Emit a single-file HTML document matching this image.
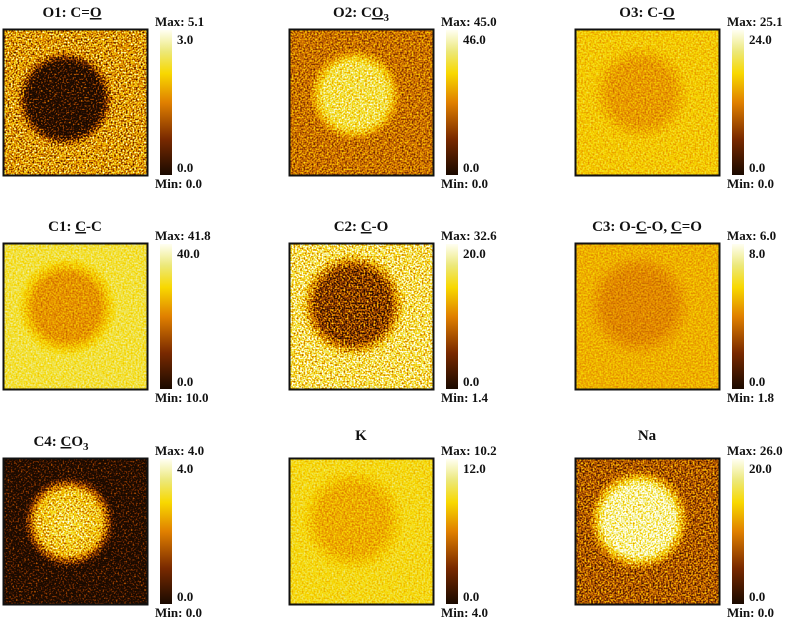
<!DOCTYPE html>
<html><head><meta charset="utf-8"><style>
body{margin:0;background:#fff}
svg text{font-family:"Liberation Serif",serif;font-weight:bold;fill:#111}
</style></head><body>
<svg width="790" height="623" viewBox="0 0 790 623" xmlns="http://www.w3.org/2000/svg">
<defs>
<linearGradient id="cb" x1="0" y1="1" x2="0" y2="0">
<stop offset="0" stop-color="#1a0a00"/><stop offset="0.25" stop-color="#7a2a00"/>
<stop offset="0.5" stop-color="#e08000"/><stop offset="0.7" stop-color="#f8d800"/>
<stop offset="0.85" stop-color="#ece878"/><stop offset="1" stop-color="#fffff2"/>
</linearGradient>
<filter id="f1" x="0" y="0" width="1" height="1" color-interpolation-filters="sRGB"><feTurbulence type="fractalNoise" baseFrequency="0.6" numOctaves="1" seed="1"/><feColorMatrix type="matrix" values="1 0 0 0 0 1 0 0 0 0 1 0 0 0 0 0 0 0 0 1" result="n"/><feComposite in="SourceGraphic" in2="n" operator="arithmetic" k2="1" k3="1.8" k4="-0.9"/><feColorMatrix type="matrix" values="1 0 0 0 0 1 0 0 0 0 1 0 0 0 0 0 0 0 0 1"/><feComponentTransfer><feFuncR type="table" tableValues="0.10 0.25 0.40 0.56 0.72 0.88 0.93 0.97 0.94 0.95 1"/><feFuncG type="table" tableValues="0.04 0.09 0.14 0.23 0.37 0.50 0.67 0.85 0.89 0.94 1"/><feFuncB type="table" tableValues="0 0 0 0 0 0 0 0 0.31 0.63 0.95"/></feComponentTransfer></filter>
<filter id="f2" x="0" y="0" width="1" height="1" color-interpolation-filters="sRGB"><feTurbulence type="fractalNoise" baseFrequency="0.6" numOctaves="1" seed="2"/><feColorMatrix type="matrix" values="1 0 0 0 0 1 0 0 0 0 1 0 0 0 0 0 0 0 0 1" result="n"/><feComposite in="SourceGraphic" in2="n" operator="arithmetic" k2="1" k3="1.0" k4="-0.5"/><feColorMatrix type="matrix" values="1 0 0 0 0 1 0 0 0 0 1 0 0 0 0 0 0 0 0 1"/><feComponentTransfer><feFuncR type="table" tableValues="0.10 0.25 0.40 0.56 0.72 0.88 0.93 0.97 0.94 0.95 1"/><feFuncG type="table" tableValues="0.04 0.09 0.14 0.23 0.37 0.50 0.67 0.85 0.89 0.94 1"/><feFuncB type="table" tableValues="0 0 0 0 0 0 0 0 0.31 0.63 0.95"/></feComponentTransfer></filter>
<filter id="f3" x="0" y="0" width="1" height="1" color-interpolation-filters="sRGB"><feTurbulence type="fractalNoise" baseFrequency="0.6" numOctaves="1" seed="3"/><feColorMatrix type="matrix" values="1 0 0 0 0 1 0 0 0 0 1 0 0 0 0 0 0 0 0 1" result="n"/><feComposite in="SourceGraphic" in2="n" operator="arithmetic" k2="1" k3="0.5" k4="-0.25"/><feColorMatrix type="matrix" values="1 0 0 0 0 1 0 0 0 0 1 0 0 0 0 0 0 0 0 1"/><feComponentTransfer><feFuncR type="table" tableValues="0.10 0.25 0.40 0.56 0.72 0.88 0.93 0.97 0.94 0.95 1"/><feFuncG type="table" tableValues="0.04 0.09 0.14 0.23 0.37 0.50 0.67 0.85 0.89 0.94 1"/><feFuncB type="table" tableValues="0 0 0 0 0 0 0 0 0.31 0.63 0.95"/></feComponentTransfer></filter>
<filter id="f4" x="0" y="0" width="1" height="1" color-interpolation-filters="sRGB"><feTurbulence type="fractalNoise" baseFrequency="0.6" numOctaves="1" seed="4"/><feColorMatrix type="matrix" values="1 0 0 0 0 1 0 0 0 0 1 0 0 0 0 0 0 0 0 1" result="n"/><feComposite in="SourceGraphic" in2="n" operator="arithmetic" k2="1" k3="1.3" k4="-0.65"/><feColorMatrix type="matrix" values="1 0 0 0 0 1 0 0 0 0 1 0 0 0 0 0 0 0 0 1"/><feComponentTransfer><feFuncR type="table" tableValues="0.10 0.25 0.40 0.56 0.72 0.88 0.93 0.97 0.94 0.95 1"/><feFuncG type="table" tableValues="0.04 0.09 0.14 0.23 0.37 0.50 0.67 0.85 0.89 0.94 1"/><feFuncB type="table" tableValues="0 0 0 0 0 0 0 0 0.31 0.63 0.95"/></feComponentTransfer></filter>
<filter id="f5" x="0" y="0" width="1" height="1" color-interpolation-filters="sRGB"><feTurbulence type="fractalNoise" baseFrequency="0.6" numOctaves="1" seed="5"/><feColorMatrix type="matrix" values="1 0 0 0 0 1 0 0 0 0 1 0 0 0 0 0 0 0 0 1" result="n"/><feComposite in="SourceGraphic" in2="n" operator="arithmetic" k2="1" k3="0.4" k4="-0.2"/><feColorMatrix type="matrix" values="1 0 0 0 0 1 0 0 0 0 1 0 0 0 0 0 0 0 0 1"/><feComponentTransfer><feFuncR type="table" tableValues="0.10 0.25 0.40 0.56 0.72 0.88 0.93 0.97 0.94 0.95 1"/><feFuncG type="table" tableValues="0.04 0.09 0.14 0.23 0.37 0.50 0.67 0.85 0.89 0.94 1"/><feFuncB type="table" tableValues="0 0 0 0 0 0 0 0 0.31 0.63 0.95"/></feComponentTransfer></filter>
<filter id="f6" x="0" y="0" width="1" height="1" color-interpolation-filters="sRGB"><feTurbulence type="fractalNoise" baseFrequency="0.6" numOctaves="1" seed="6"/><feColorMatrix type="matrix" values="1 0 0 0 0 1 0 0 0 0 1 0 0 0 0 0 0 0 0 1" result="n"/><feComposite in="SourceGraphic" in2="n" operator="arithmetic" k2="1" k3="1.6" k4="-0.8"/><feColorMatrix type="matrix" values="1 0 0 0 0 1 0 0 0 0 1 0 0 0 0 0 0 0 0 1"/><feComponentTransfer><feFuncR type="table" tableValues="0.10 0.25 0.40 0.56 0.72 0.88 0.93 0.97 0.94 0.95 1"/><feFuncG type="table" tableValues="0.04 0.09 0.14 0.23 0.37 0.50 0.67 0.85 0.89 0.94 1"/><feFuncB type="table" tableValues="0 0 0 0 0 0 0 0 0.31 0.63 0.95"/></feComponentTransfer></filter>
<filter id="f7" x="0" y="0" width="1" height="1" color-interpolation-filters="sRGB"><feTurbulence type="fractalNoise" baseFrequency="0.6" numOctaves="1" seed="7"/><feColorMatrix type="matrix" values="1 0 0 0 0 1 0 0 0 0 1 0 0 0 0 0 0 0 0 1" result="n"/><feComposite in="SourceGraphic" in2="n" operator="arithmetic" k2="1" k3="1.5" k4="-0.75"/><feColorMatrix type="matrix" values="1 0 0 0 0 1 0 0 0 0 1 0 0 0 0 0 0 0 0 1"/><feComponentTransfer><feFuncR type="table" tableValues="0.10 0.25 0.40 0.56 0.72 0.88 0.93 0.97 0.94 0.95 1"/><feFuncG type="table" tableValues="0.04 0.09 0.14 0.23 0.37 0.50 0.67 0.85 0.89 0.94 1"/><feFuncB type="table" tableValues="0 0 0 0 0 0 0 0 0.31 0.63 0.95"/></feComponentTransfer></filter>
<radialGradient id="g1"><stop offset="0.75" stop-color="#000"/><stop offset="1" stop-color="#000" stop-opacity="0"/></radialGradient>
<radialGradient id="g2"><stop offset="0.7" stop-color="#c8c8c8"/><stop offset="1" stop-color="#c8c8c8" stop-opacity="0"/></radialGradient>
<radialGradient id="g3"><stop offset="0.65" stop-color="#909090"/><stop offset="1" stop-color="#909090" stop-opacity="0"/></radialGradient>
<radialGradient id="g4"><stop offset="0.65" stop-color="#8c8c8c"/><stop offset="1" stop-color="#8c8c8c" stop-opacity="0"/></radialGradient>
<radialGradient id="g5"><stop offset="0.7" stop-color="#4a4a4a"/><stop offset="1" stop-color="#4a4a4a" stop-opacity="0"/></radialGradient>
<radialGradient id="g6"><stop offset="0.65" stop-color="#848484"/><stop offset="1" stop-color="#848484" stop-opacity="0"/></radialGradient>
<radialGradient id="g7"><stop offset="0" stop-color="#c4c4c4"/><stop offset="0.7" stop-color="#a8a8a8"/><stop offset="1" stop-color="#a8a8a8" stop-opacity="0"/></radialGradient>
<radialGradient id="g8"><stop offset="0.65" stop-color="#9a9a9a"/><stop offset="1" stop-color="#9a9a9a" stop-opacity="0"/></radialGradient>
<radialGradient id="g9"><stop offset="0.7" stop-color="#e6e6e6"/><stop offset="1" stop-color="#e6e6e6" stop-opacity="0"/></radialGradient>
</defs>

<g transform="translate(3,29)">
<g filter="url(#f1)"><rect width="145" height="147" fill="#8e8e8e"/><circle cx="62" cy="70" r="48" fill="url(#g1)"/></g>
<rect x="0.5" y="0.5" width="144" height="146" fill="none" stroke="#111" stroke-width="2"/>
<rect x="157" y="1" width="12" height="145" fill="url(#cb)"/>
<text x="69" y="-12" font-size="15" text-anchor="middle">O1: C=<tspan text-decoration="underline">O</tspan></text>
<text x="152" y="-3" font-size="13">Max: 5.1</text><text x="174" y="15" font-size="13">3.0</text>
<text x="174" y="143" font-size="13">0.0</text><text x="152" y="159" font-size="13">Min: 0.0</text>
</g>
<g transform="translate(289,29)">
<g filter="url(#f2)"><rect width="145" height="147" fill="#747474"/><circle cx="66" cy="66" r="46" fill="url(#g2)"/></g>
<rect x="0.5" y="0.5" width="144" height="146" fill="none" stroke="#111" stroke-width="2"/>
<rect x="157" y="1" width="12" height="145" fill="url(#cb)"/>
<text x="72" y="-12" font-size="15" text-anchor="middle">O2: C<tspan text-decoration="underline">O</tspan><tspan font-size="11" dy="4">3</tspan></text>
<text x="152" y="-3" font-size="13">Max: 45.0</text><text x="174" y="15" font-size="13">46.0</text>
<text x="174" y="143" font-size="13">0.0</text><text x="152" y="159" font-size="13">Min: 0.0</text>
</g>
<g transform="translate(575,29)">
<g filter="url(#f3)"><rect width="145" height="147" fill="#aaaaaa"/><circle cx="66" cy="64" r="48" fill="url(#g3)"/></g>
<rect x="0.5" y="0.5" width="144" height="146" fill="none" stroke="#111" stroke-width="2"/>
<rect x="157" y="1" width="12" height="145" fill="url(#cb)"/>
<text x="72" y="-12" font-size="15" text-anchor="middle">O3: C-<tspan text-decoration="underline">O</tspan></text>
<text x="152" y="-3" font-size="13">Max: 25.1</text><text x="174" y="15" font-size="13">24.0</text>
<text x="174" y="143" font-size="13">0.0</text><text x="152" y="159" font-size="13">Min: 0.0</text>
</g>
<g transform="translate(3,243)">
<g filter="url(#f3)"><rect width="145" height="147" fill="#c6c6c6"/><circle cx="64" cy="64" r="50" fill="url(#g4)"/></g>
<rect x="0.5" y="0.5" width="144" height="146" fill="none" stroke="#111" stroke-width="2"/>
<rect x="157" y="1" width="12" height="145" fill="url(#cb)"/>
<text x="72" y="-12" font-size="15" text-anchor="middle">C1: <tspan text-decoration="underline">C</tspan>-C</text>
<text x="152" y="-3" font-size="13">Max: 41.8</text><text x="174" y="15" font-size="13">40.0</text>
<text x="174" y="143" font-size="13">0.0</text><text x="152" y="159" font-size="13">Min: 10.0</text>
</g>
<g transform="translate(289,243)">
<g filter="url(#f6)"><rect width="145" height="147" fill="#cacaca"/><circle cx="64" cy="62" r="52" fill="url(#g5)"/></g>
<rect x="0.5" y="0.5" width="144" height="146" fill="none" stroke="#111" stroke-width="2"/>
<rect x="157" y="1" width="12" height="145" fill="url(#cb)"/>
<text x="72" y="-12" font-size="15" text-anchor="middle">C2: <tspan text-decoration="underline">C</tspan>-O</text>
<text x="152" y="-3" font-size="13">Max: 32.6</text><text x="174" y="15" font-size="13">20.0</text>
<text x="174" y="143" font-size="13">0.0</text><text x="152" y="159" font-size="13">Min: 1.4</text>
</g>
<g transform="translate(575,243)">
<g filter="url(#f5)"><rect width="145" height="147" fill="#9c9c9c"/><circle cx="64" cy="62" r="52" fill="url(#g6)"/></g>
<rect x="0.5" y="0.5" width="144" height="146" fill="none" stroke="#111" stroke-width="2"/>
<rect x="157" y="1" width="12" height="145" fill="url(#cb)"/>
<text x="72" y="-12" font-size="15" text-anchor="middle">C3: O-<tspan text-decoration="underline">C</tspan>-O, <tspan text-decoration="underline">C</tspan>=O</text>
<text x="152" y="-3" font-size="13">Max: 6.0</text><text x="174" y="15" font-size="13">8.0</text>
<text x="174" y="143" font-size="13">0.0</text><text x="152" y="159" font-size="13">Min: 1.8</text>
</g>
<g transform="translate(3,458)">
<g filter="url(#f7)"><rect width="145" height="147" fill="#000"/><circle cx="66" cy="64" r="46" fill="url(#g7)"/></g>
<rect x="0.5" y="0.5" width="144" height="146" fill="none" stroke="#111" stroke-width="2"/>
<rect x="157" y="1" width="12" height="145" fill="url(#cb)"/>
<text x="58" y="-12" font-size="15" text-anchor="middle">C4: <tspan text-decoration="underline">C</tspan>O<tspan font-size="11" dy="4">3</tspan></text>
<text x="152" y="-3" font-size="13">Max: 4.0</text><text x="174" y="15" font-size="13">4.0</text>
<text x="174" y="143" font-size="13">0.0</text><text x="152" y="159" font-size="13">Min: 0.0</text>
</g>
<g transform="translate(289,458)">
<g filter="url(#f3)"><rect width="145" height="147" fill="#b8b8b8"/><circle cx="64" cy="62" r="52" fill="url(#g8)"/></g>
<rect x="0.5" y="0.5" width="144" height="146" fill="none" stroke="#111" stroke-width="2"/>
<rect x="157" y="1" width="12" height="145" fill="url(#cb)"/>
<text x="72" y="-18" font-size="15" text-anchor="middle">K</text>
<text x="152" y="-3" font-size="13">Max: 10.2</text><text x="174" y="15" font-size="13">12.0</text>
<text x="174" y="143" font-size="13">0.0</text><text x="152" y="159" font-size="13">Min: 4.0</text>
</g>
<g transform="translate(575,458)">
<g filter="url(#f4)"><rect width="145" height="147" fill="#626262"/><circle cx="64" cy="62" r="50" fill="url(#g9)"/></g>
<rect x="0.5" y="0.5" width="144" height="146" fill="none" stroke="#111" stroke-width="2"/>
<rect x="157" y="1" width="12" height="145" fill="url(#cb)"/>
<text x="72" y="-18" font-size="15" text-anchor="middle">Na</text>
<text x="152" y="-3" font-size="13">Max: 26.0</text><text x="174" y="15" font-size="13">20.0</text>
<text x="174" y="143" font-size="13">0.0</text><text x="152" y="159" font-size="13">Min: 0.0</text>
</g>
</svg>
</body></html>
